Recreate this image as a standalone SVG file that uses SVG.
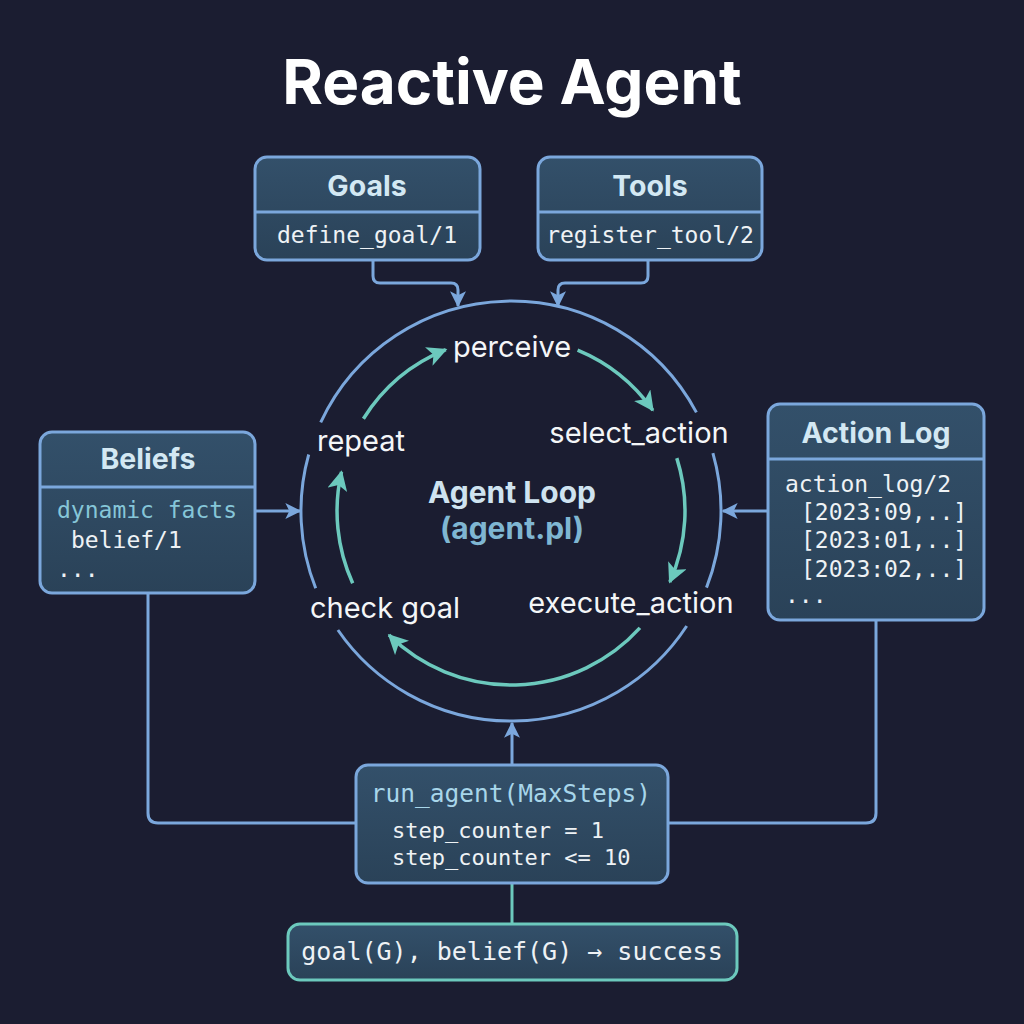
<svg xmlns="http://www.w3.org/2000/svg" width="1024" height="1024" viewBox="0 0 1024 1024">
<defs>
<linearGradient id="boxg" x1="0" y1="0" x2="0" y2="1">
<stop offset="0" stop-color="#33506a"/>
<stop offset="1" stop-color="#2a4258"/>
</linearGradient>
<marker id="ab" viewBox="0 0 12 12" refX="11" refY="6" markerWidth="16" markerHeight="16" markerUnits="userSpaceOnUse" orient="auto">
<path d="M0,0 L12,6 L0,12 L3,6 Z" fill="#7ba7dc"/>
</marker>
<marker id="at" viewBox="0 0 12 12" refX="11" refY="6" markerWidth="20" markerHeight="20" markerUnits="userSpaceOnUse" orient="auto">
<path d="M0,0 L12,6 L0,12 L3,6 Z" fill="#6cc9bd"/>
</marker>
<style>
.box{fill:url(#boxg);stroke:#7ba7dc;stroke-width:3}
.div{stroke:#7ba7dc;stroke-width:3}
.ttl{font-family:Inter,Roboto,"Liberation Sans",sans-serif;font-weight:700;fill:#d3e8f3;text-anchor:middle}
.mono{font-family:"DejaVu Sans Mono","Liberation Mono",monospace;fill:#eef2f5}
.lbl{font-family:Inter,Roboto,"Liberation Sans",sans-serif;font-size:29px;fill:#f4f6f8;text-anchor:middle}
.con{fill:none;stroke:#7ba7dc;stroke-width:3}
.loop{fill:none;stroke:#6cc9bd;stroke-width:3.5}
.ring{fill:none;stroke:#7ba7dc;stroke-width:3}
</style>
</defs>
<rect width="1024" height="1024" fill="#1b1d31"/>
<text x="512" y="104" font-family="Inter,Roboto,'Liberation Sans',sans-serif" font-weight="700" font-size="62" fill="#ffffff" text-anchor="middle">Reactive Agent</text>

<g id="connectors">
<path class="con" d="M373,260 V276 Q373,283 380,283 H451 Q458,283 458,290 V306" marker-end="url(#ab)"/>
<path class="con" d="M648,260 V276 Q648,283 641,283 H565 Q558,283 558,290 V306" marker-end="url(#ab)"/>
<path class="con" d="M255,511 H300" marker-end="url(#ab)"/>
<path class="con" d="M767,511 H723" marker-end="url(#ab)"/>
<path class="con" d="M148,593 V813 Q148,823 158,823 H356"/>
<path class="con" d="M876,620 V813 Q876,823 866,823 H668"/>
<path class="con" d="M512,765 V723" marker-end="url(#ab)"/>
<path d="M512,883 V924" fill="none" stroke="#6cc9bd" stroke-width="3"/>
</g>

<g id="loop">
<path class="ring" d="M320.7,422.3 A210,210 0 0 1 696.4,412.4"/>
<path class="ring" d="M712.9,453.1 A210,210 0 0 1 706.5,587.6"/>
<path class="ring" d="M686.7,626.0 A210,210 0 0 1 337.9,630.0"/>
<path class="ring" d="M315.7,588.3 A210,210 0 0 1 308.7,454.5"/>
<path class="loop" d="M577.6,350.2 A174,174 0 0 1 652.8,410.2" marker-end="url(#at)"/>
<path class="loop" d="M676.8,458.1 A174,174 0 0 1 669.8,582.0" marker-end="url(#at)"/>
<path class="loop" d="M639.9,627.9 A174,174 0 0 1 389.0,635.1" marker-end="url(#at)"/>
<path class="loop" d="M352.7,583.2 A174,174 0 0 1 341.5,471.9" marker-end="url(#at)"/>
<path class="loop" d="M363.4,418.8 A174,174 0 0 1 445.8,349.7" marker-end="url(#at)"/>
<text class="lbl" x="512" y="357">perceive</text>
<text class="lbl" x="639" y="443">select_action</text>
<text class="lbl" x="631" y="613">execute_action</text>
<text class="lbl" x="385" y="618">check goal</text>
<text class="lbl" x="361" y="451">repeat</text>
<text x="512" y="503" font-family="Inter,Roboto,'Liberation Sans',sans-serif" font-weight="700" font-size="30" fill="#cfe3f0" text-anchor="middle">Agent Loop</text>
<text x="512" y="539" font-family="Inter,Roboto,'Liberation Sans',sans-serif" font-weight="700" font-size="30" fill="#7fb6d2" text-anchor="middle">(agent.pl)</text>
</g>

<g id="goals">
<rect class="box" x="255" y="157" width="225" height="103" rx="12"/>
<line class="div" x1="256" y1="212" x2="479" y2="212"/>
<text class="ttl" x="367" y="196" font-size="28.5">Goals</text>
<text class="mono" x="367" y="243" font-size="23" text-anchor="middle">define_goal/1</text>
</g>

<g id="tools">
<rect class="box" x="538" y="157" width="224" height="103" rx="12"/>
<line class="div" x1="539" y1="212" x2="761" y2="212"/>
<text class="ttl" x="650" y="196" font-size="28.5">Tools</text>
<text class="mono" x="650" y="243" font-size="23" text-anchor="middle">register_tool/2</text>
</g>

<g id="beliefs">
<rect class="box" x="40" y="432" width="215" height="161" rx="12"/>
<line class="div" x1="41" y1="487" x2="254" y2="487"/>
<text class="ttl" x="148" y="469" font-size="28.5">Beliefs</text>
<text class="mono" x="57" y="518" font-size="23" style="fill:#86c6d8">dynamic facts</text>
<text class="mono" x="71" y="548" font-size="23">belief/1</text>
<text class="mono" x="57" y="577" font-size="23">...</text>
</g>

<g id="action-log">
<rect class="box" x="768" y="404" width="216" height="216" rx="12"/>
<line class="div" x1="769" y1="459" x2="983" y2="459"/>
<text class="ttl" x="876" y="443" font-size="28.5">Action Log</text>
<text class="mono" x="785" y="492" font-size="23">action_log/2</text>
<text class="mono" x="801" y="520" font-size="23">[2023:09,..]</text>
<text class="mono" x="801" y="548" font-size="23">[2023:01,..]</text>
<text class="mono" x="801" y="577" font-size="23">[2023:02,..]</text>
<text class="mono" x="785" y="603" font-size="23">...</text>
</g>

<g id="run-agent">
<rect class="box" x="356" y="765" width="312" height="118" rx="12"/>
<text class="mono" x="511" y="802" font-size="24.5" text-anchor="middle" style="fill:#a8d6ea">run_agent(MaxSteps)</text>
<text class="mono" x="392" y="838" font-size="22">step_counter = 1</text>
<text class="mono" x="392" y="865" font-size="22">step_counter &lt;= 10</text>
</g>

<g id="success">
<rect x="288" y="924" width="449" height="56" rx="12" fill="url(#boxg)" stroke="#6cc9bd" stroke-width="3"/>
<text class="mono" x="512" y="960" font-size="25" text-anchor="middle">goal(G), belief(G) → success</text>
</g>
</svg>
